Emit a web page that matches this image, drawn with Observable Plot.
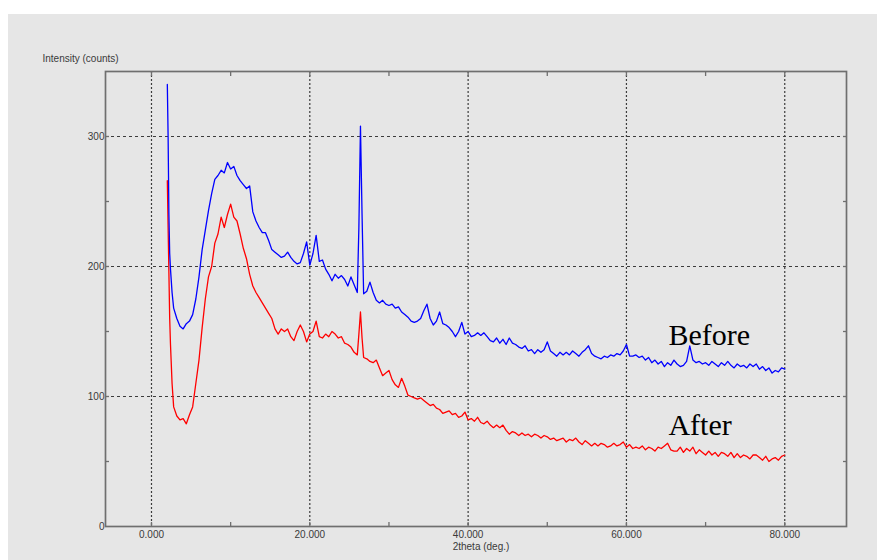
<!DOCTYPE html>
<html>
<head>
<meta charset="utf-8">
<script src="https://cdn.jsdelivr.net/npm/d3@7"></script>
<script src="https://cdn.jsdelivr.net/npm/@observablehq/plot@0.6"></script>
<style>
  html, body { margin: 0; padding: 0; background: #ffffff; }
  #wrap { position: relative; width: 877px; height: 560px; overflow: hidden; }
  #panel { position: absolute; left: 8px; top: 14px; width: 869px; height: 546px; background: #e6e6e6; }
  #chart { position: absolute; left: 0; top: 0; }
</style>
</head>
<body>
<div id="wrap"><div id="panel"></div><div id="chart"></div></div>
<script>
// 2theta (deg.) sample positions
const twoTheta = [
  2.0, 2.1, 2.2, 2.3, 2.4, 2.6, 2.8, 3.2, 3.6, 4.0,
  4.4, 4.8, 5.2, 5.6, 6.0, 6.4, 6.8, 7.2, 7.6, 8.0,
  8.4, 8.8, 9.2, 9.6, 10.0, 10.4, 10.8, 11.2, 11.6, 12.0,
  12.4, 12.8, 13.2, 13.6, 14.0, 14.4, 14.8, 15.2, 15.6, 16.0,
  16.4, 16.8, 17.2, 17.6, 18.0, 18.4, 18.8, 19.2, 19.6, 20.0,
  20.4, 20.8, 21.2, 21.6, 22.0, 22.4, 22.8, 23.2, 23.6, 24.0,
  24.4, 24.8, 25.2, 25.6, 26.0, 26.2, 26.4, 26.6, 26.8, 27.2,
  27.6, 28.0, 28.4, 28.8, 29.2, 29.6, 30.0, 30.4, 30.8, 31.2,
  31.6, 32.0, 32.4, 32.8, 33.2, 33.6, 34.0, 34.4, 34.8, 35.2,
  35.6, 36.0, 36.4, 36.8, 37.2, 37.6, 38.0, 38.4, 38.8, 39.2,
  39.6, 40.0, 40.4, 40.8, 41.2, 41.6, 42.0, 42.4, 42.8, 43.2,
  43.6, 44.0, 44.4, 44.8, 45.2, 45.6, 46.0, 46.4, 46.8, 47.2,
  47.6, 48.0, 48.4, 48.8, 49.2, 49.6, 50.0, 50.4, 50.8, 51.2,
  51.6, 52.0, 52.4, 52.8, 53.2, 53.6, 54.0, 54.4, 54.8, 55.2,
  55.6, 56.0, 56.4, 56.8, 57.2, 57.6, 58.0, 58.4, 58.8, 59.2,
  59.6, 60.0, 60.4, 60.8, 61.2, 61.6, 62.0, 62.4, 62.8, 63.2,
  63.6, 64.0, 64.4, 64.8, 65.2, 65.6, 66.0, 66.4, 66.8, 67.2,
  67.6, 68.0, 68.4, 68.8, 69.2, 69.6, 70.0, 70.4, 70.8, 71.2,
  71.6, 72.0, 72.4, 72.8, 73.2, 73.6, 74.0, 74.4, 74.8, 75.2,
  75.6, 76.0, 76.4, 76.8, 77.2, 77.6, 78.0, 78.4, 78.8, 79.2,
  79.6, 80.0
];

// Intensity (counts) before treatment
const before = [
  340, 300, 240, 210, 198, 180, 168, 160, 154, 152,
  156, 158, 163, 175, 192, 213, 228, 243, 256, 267,
  270, 274, 272, 280, 275, 277, 270, 266, 263, 260,
  262, 242, 235, 230, 226, 226, 220, 213, 211, 209,
  207, 208, 211, 207, 204, 202, 203, 210, 219, 201,
  210, 224, 204, 205, 198, 194, 189, 194, 191, 193,
  190, 185, 192, 186, 180, 230, 308, 240, 179, 181,
  188, 180, 174, 172, 174, 171, 170, 171, 168, 169,
  165, 163, 161, 158, 157, 158, 160, 166, 171, 160,
  155, 158, 165, 156, 155, 153, 150, 146, 150, 157,
  148, 150, 146, 147, 149, 147, 149, 146, 143, 142,
  145, 141, 144, 140, 145, 141, 140, 138, 137, 139,
  135, 136, 133, 136, 134, 136, 142, 135, 133, 131,
  134, 132, 134, 132, 135, 133, 131, 134, 136, 139,
  133, 131, 130, 129, 131, 130, 132, 131, 133, 132,
  135, 140, 131, 131, 132, 130, 131, 128, 130, 126,
  128, 125, 127, 123, 126, 124, 128, 125, 123, 124,
  127, 139, 128, 126, 127, 125, 126, 124, 127, 125,
  123, 126, 124, 127, 124, 122, 125, 123, 124, 122,
  125, 123, 125, 121, 123, 120, 122, 118, 120, 119,
  122, 121
];

// Intensity (counts) after treatment
const after = [
  266, 230, 195, 160, 140, 110, 92, 85, 82, 83,
  79, 86, 92, 110, 128, 153, 175, 192, 200, 218,
  225, 238, 230, 240, 248, 238, 235, 225, 214, 206,
  194, 185, 180, 176, 172, 168, 164, 160, 152, 148,
  152, 150, 152, 146, 143, 150, 155, 150, 142, 148,
  150, 158, 146, 145, 148, 146, 150, 148, 145, 146,
  141, 140, 138, 134, 132, 148, 165, 145, 130, 129,
  127, 126, 128, 122, 116, 118, 120, 113, 109, 107,
  114, 108, 101, 100, 99, 98, 99, 97, 95, 93,
  94, 91, 90, 87, 88, 89, 86, 87, 84, 85,
  88, 82, 83, 81, 84, 80, 79, 81, 78, 76,
  78, 76, 78, 74, 71, 73, 72, 70, 72, 70,
  71, 69, 71, 70, 68, 70, 69, 67, 68, 66,
  67, 68, 65, 67, 66, 68, 65, 63, 66, 64,
  62, 64, 62, 64, 63, 61, 62, 64, 62, 63,
  65, 61, 63, 60, 61, 60, 62, 59, 61, 60,
  58, 61, 60, 62, 64, 59, 58, 58, 61, 57,
  60, 58, 61, 56, 59, 57, 55, 58, 55, 57,
  54, 57, 56, 54, 57, 53, 56, 53, 55, 54,
  52, 55, 55, 53, 51, 54, 50, 52, 53, 51,
  54, 55
];

// Axis ticks and labels
const xMajorTicks = [0, 20, 40, 60, 80];
const xMinorTicks = [0, 10, 20, 30, 40, 50, 60, 70, 80];
const yMajorTicks = [0, 100, 200, 300];
const yGridTicks = [100, 200, 300];
const yMinorTicks = [50, 100, 150, 200, 250, 300];
const yTitle = "Intensity (counts)";
const xTitle = "2theta (deg.)";

// Series annotations
const seriesNames = ["Before", "After"];
const labelTheta = [65.3, 65.3];
const labelIntensity = [140, 70.5];

const n = Math.min(twoTheta.length, before.length, after.length);
const beforeRows = d3.range(n).map(i => ({theta: twoTheta[i], intensity: before[i]}));
const afterRows = d3.range(n).map(i => ({theta: twoTheta[i], intensity: after[i]}));
const labelRows = seriesNames.map((s, i) => ({name: s, theta: labelTheta[i], intensity: labelIntensity[i]}));

const axisColor = "#6f6f6f";
const textColor = "#3a3a3a";
const gridColor = "#3c3c3c";

const chart = Plot.plot({
  width: 877,
  height: 560,
  marginLeft: 105,
  marginTop: 71,
  marginRight: 31,
  marginBottom: 34,
  style: {background: "transparent", fontFamily: "'Liberation Sans', Arial, sans-serif", fontSize: "10px"},
  x: {domain: [-5.81, 87.8], axis: null},
  y: {domain: [0, 350], axis: null},
  marks: [
    Plot.gridX(xMajorTicks, {stroke: gridColor, strokeOpacity: 1, strokeDasharray: "2,2", strokeWidth: 1.2}),
    Plot.gridY(yGridTicks, {stroke: gridColor, strokeOpacity: 1, strokeDasharray: "3,3", strokeWidth: 1.2}),
    // inward minor/major ticks on all four sides
    Plot.axisX(xMinorTicks, {anchor: "bottom", tickSize: -4, fill: "none", stroke: axisColor, strokeWidth: 1.3, label: null}),
    Plot.axisX(xMinorTicks, {anchor: "top", tickSize: -4, fill: "none", stroke: axisColor, strokeWidth: 1.3, label: null}),
    Plot.axisY(yMinorTicks, {anchor: "left", tickSize: -4, fill: "none", stroke: axisColor, strokeWidth: 1.3, label: null}),
    Plot.axisY(yMinorTicks, {anchor: "right", tickSize: -4, fill: "none", stroke: axisColor, strokeWidth: 1.3, label: null}),
    // tick labels
    Plot.axisX(xMajorTicks, {anchor: "bottom", tickSize: 0, tickPadding: 4, tickFormat: d => d.toFixed(3), fill: textColor, label: null}),
    Plot.axisY(yMajorTicks, {anchor: "left", tickSize: 0, tickPadding: 1, fill: textColor, label: null}),
    Plot.line(afterRows, {x: "theta", y: "intensity", stroke: "#ff0000", strokeWidth: 1.3}),
    Plot.line(beforeRows, {x: "theta", y: "intensity", stroke: "#0000ff", strokeWidth: 1.3}),
    Plot.frame({stroke: axisColor, strokeWidth: 1.7}),
    Plot.text(labelRows, {x: "theta", y: "intensity", text: "name", textAnchor: "start", lineAnchor: "bottom",
      fontFamily: "'Liberation Serif', 'Times New Roman', serif", fontSize: 30, fill: "#000000"}),
    Plot.text([yTitle], {frameAnchor: "top-left", dx: -63, dy: -13, textAnchor: "start", lineAnchor: "middle", fill: textColor}),
    Plot.text([xTitle], {frameAnchor: "bottom", dx: 5, dy: 20, lineAnchor: "middle", fill: textColor})
  ]
});
document.getElementById("chart").appendChild(chart);
</script>
</body>
</html>
